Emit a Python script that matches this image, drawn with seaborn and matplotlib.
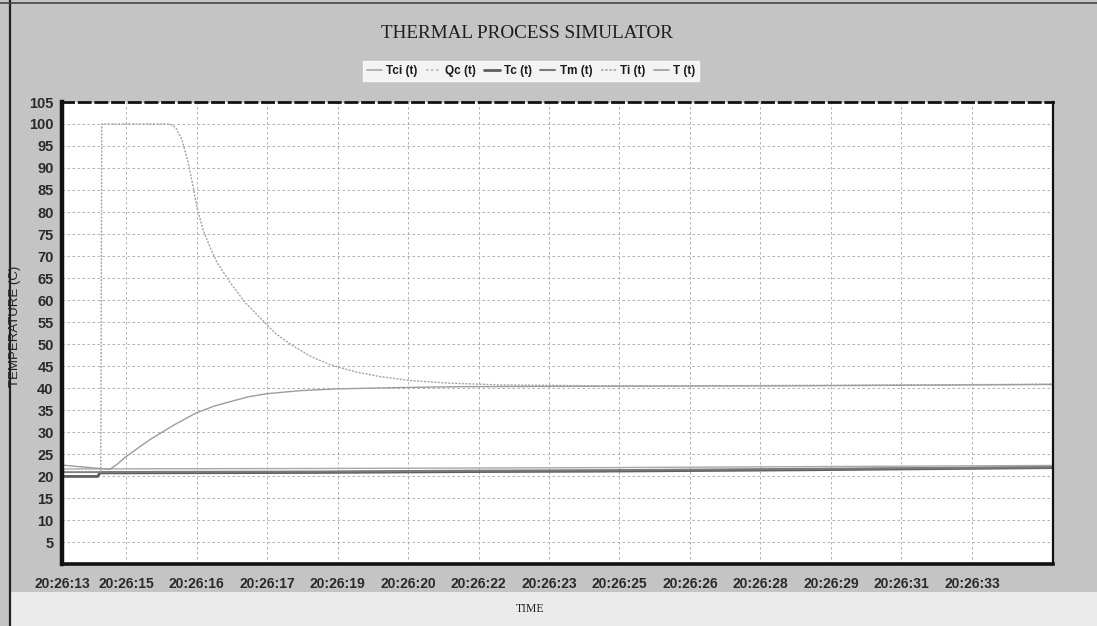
import matplotlib
matplotlib.use("Agg")
import matplotlib.pyplot as plt
import matplotlib.lines as mlines
import matplotlib.patches as mpatches
import pandas as pd
import seaborn as sns

# ---- data -------------------------------------------------------------
# elapsed time of the run in seconds; one grid division = 1.4 s
tick_labels = ["20:26:13", "20:26:15", "20:26:16", "20:26:17", "20:26:19",
               "20:26:20", "20:26:22", "20:26:23", "20:26:25", "20:26:26",
               "20:26:28", "20:26:29", "20:26:31", "20:26:33"]
x_end = 19.68

# inlet temperature: step to 100 C, then relaxes towards ~40.5 C
ti_time = [0.0, 0.77, 0.79, 2.14, 2.26, 2.38, 2.50, 2.60, 2.68, 2.80, 2.94,
           3.08, 3.34, 3.63, 3.93, 4.23, 4.53, 4.92, 5.32, 5.82, 6.31, 6.91,
           7.70, 8.70, 10.68, 12.67, 14.66, 16.64, 18.63, 19.68]
ti_vals = [21.0, 21.0, 100.0, 100.0, 99.2, 96.5, 91.5, 86.0, 81.0, 76.0,
           72.0, 68.5, 64.0, 59.5, 56.0, 52.5, 50.0, 47.3, 45.3, 43.7, 42.6,
           41.7, 41.1, 40.7, 40.5, 40.5, 40.6, 40.7, 40.8, 40.9]

# process temperature
t_time = [0.0, 0.36, 0.75, 0.95, 1.11, 1.27, 1.75, 2.24, 2.66, 3.00, 3.34,
          3.70, 4.07, 4.73, 5.46, 6.71, 7.90, 10.68, 14.66, 19.68]
t_vals = [22.5, 22.1, 21.7, 21.5, 22.8, 24.4, 28.3, 31.7, 34.3, 35.8, 36.9,
          38.0, 38.7, 39.4, 39.8, 40.1, 40.3, 40.4, 40.5, 40.8]

# coolant inlet temperature
tci_time = [0.0, 4.73, 10.68, 19.68]
tci_vals = [21.6, 21.7, 21.9, 22.4]

# coolant heat duty (stays at zero on this scale)
qc_time = [0.0, 19.68]
qc_vals = [0.0, 0.0]

# coolant temperature
tc_time = [0.0, 0.71, 0.75, 5.02, 8.10, 10.68, 14.66, 19.68]
tc_vals = [19.9, 19.9, 20.7, 20.8, 21.0, 21.1, 21.4, 21.9]

# metal (wall) temperature
tm_time = [0.0, 0.75, 5.02, 8.10, 10.68, 14.66, 19.68]
tm_vals = [20.9, 20.9, 21.0, 21.2, 21.3, 21.6, 22.0]

series = [
    ("Tci (t)", tci_time, tci_vals),
    ("Qc (t)", qc_time, qc_vals),
    ("Tc (t)", tc_time, tc_vals),
    ("Tm (t)", tm_time, tm_vals),
    ("Ti (t)", ti_time, ti_vals),
    ("T (t)", t_time, t_vals),
]

styles = {
    "Tci (t)": dict(color="#a8a8a8", lw=1.0, ls="-"),
    "Qc (t)": dict(color="#b8b8b8", lw=1.0, ls=(0, (1.5, 1.5))),
    "Tc (t)": dict(color="#5e5e5e", lw=2.0, ls="-"),
    "Tm (t)": dict(color="#7a7a7a", lw=1.5, ls="-"),
    "Ti (t)": dict(color="#a4a4a4", lw=1.0, ls=(0, (1.5, 1))),
    "T (t)": dict(color="#9c9c9c", lw=1.0, ls="-"),
}

# ---- figure -----------------------------------------------------------
sns.set_theme(style="white")
plt.rcParams["font.family"] = ["Liberation Sans", "DejaVu Sans"]

W, H = 1097, 626
fig = plt.figure(figsize=(W / 100, H / 100), dpi=100)
fig.patch.set_facecolor("#c4c4c4")

# lighter footer band and outer frame lines
fig.add_artist(mpatches.Rectangle((10 / W, 0), 1 - 10 / W, (H - 592) / H,
                                  transform=fig.transFigure,
                                  facecolor="#ebebeb", edgecolor="none", zorder=0))
fig.add_artist(mlines.Line2D([10 / W, 10 / W], [0, 1], transform=fig.transFigure,
                             color="#222222", lw=1.6))
fig.add_artist(mlines.Line2D([0, 1], [1 - 3 / H, 1 - 3 / H], transform=fig.transFigure,
                             color="#444444", lw=1.2))

ax = fig.add_axes([62 / W, (H - 564) / H, (1053 - 62) / W, (564 - 102) / H])
ax.set_facecolor("white")

for name, xs, ys in series:
    df = pd.DataFrame({"time": xs, "temp": ys})
    st = styles[name]
    sns.lineplot(data=df, x="time", y="temp", ax=ax, sort=False, estimator=None,
                 color=st["color"], linewidth=st["lw"], linestyle=st["ls"],
                 zorder=2)

ax.set_xlim(0, x_end)
ax.set_ylim(0, 105)

step = 1.4
first = 0.908 * step
xticks = [0.0] + [first + k * step for k in range(len(tick_labels) - 1)]
ax.set_xticks(xticks)
ax.set_xticklabels(tick_labels)
ax.set_yticks(list(range(5, 110, 5)))

ax.tick_params(axis="both", colors="#1a1a1a", length=3, width=0.8, direction="out")
ax.tick_params(axis="x", pad=6, labelsize=10)
ax.tick_params(axis="y", pad=3, labelsize=10.5)
for lab in ax.get_xticklabels() + ax.get_yticklabels():
    lab.set_fontweight("bold")
    lab.set_color("#2a2a2a")

ax.grid(True, color="#a6a6a6", linestyle=(0, (3, 3)), linewidth=0.6)
ax.set_axisbelow(True)

for side, sp in ax.spines.items():
    sp.set_visible(True)
    sp.set_color("#111111")
ax.spines["left"].set_linewidth(3.2)
ax.spines["bottom"].set_linewidth(2.6)
ax.spines["right"].set_linewidth(1.6)
ax.spines["top"].set_linewidth(2.0)
ax.spines["top"].set_linestyle((0, (4, 2)))

ax.set_xlabel("TIME", family=["Liberation Serif", "DejaVu Serif"], fontsize=8.5,
              color="#222222")
ax.xaxis.set_label_coords((530 - 62) / (1053 - 62), -(603 - 564) / (564 - 102))
ax.set_ylabel("TEMPERATURE (C)", fontsize=9.5, color="#222222")
ax.yaxis.set_label_coords((21 - 62) / (1053 - 62), (564 - 326) / (564 - 102))

fig.text(527 / W, 1 - 33 / H, "THERMAL PROCESS SIMULATOR",
         family=["Liberation Serif", "DejaVu Serif"], fontsize=13.8,
         ha="center", va="center", color="#1e1e1e")

handles = [mlines.Line2D([], [], color=styles[n]["color"], lw=max(styles[n]["lw"], 1.2),
                         linestyle=styles[n]["ls"]) for n, _, _ in series]
leg = fig.legend(handles, [n for n, _, _ in series], loc="center",
                 bbox_to_anchor=(531 / W, 1 - 71 / H), ncol=6, frameon=True,
                 fontsize=8.5, handlelength=1.3, handletextpad=0.35,
                 columnspacing=0.7, borderpad=0.3, fancybox=False)
leg.get_frame().set_facecolor("white")
leg.get_frame().set_edgecolor("white")
for txt in leg.get_texts():
    txt.set_fontweight("bold")
    txt.set_color("#1a1a1a")

fig.savefig("out.png", dpi=100, facecolor=fig.get_facecolor())
